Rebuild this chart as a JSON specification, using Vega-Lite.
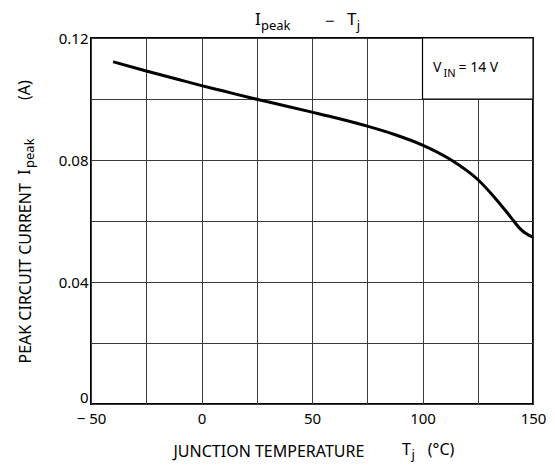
{
  "$schema": "https://vega.github.io/schema/vega-lite/v6.json",
  "width": 442,
  "height": 366,
  "autosize": {"type": "none"},
  "padding": {"left": 91, "top": 38, "right": 22, "bottom": 66},
  "background": "white",
  "config": {
    "font": "Noto Sans",
    "view": {"stroke": "black", "strokeWidth": 2},
    "text": {"font": "Noto Sans", "color": "black"},
    "axis": {
      "domain": false,
      "ticks": false,
      "grid": true,
      "gridColor": "#3a3a3a",
      "gridWidth": 1,
      "gridOpacity": 1,
      "labelColor": "black",
      "labelFont": "Noto Sans",
      "labelFontSize": 15,
      "labelOverlap": false,
      "labelFlush": false,
      "titleColor": "black",
      "titleFont": "Noto Sans",
      "titleFontWeight": "normal",
      "titleFontSize": 16
    }
  },
  "datasets": {
    "curve": [
      {"T": -40, "I": 0.1122},
      {"T": -25, "I": 0.1092},
      {"T": -10, "I": 0.1063},
      {"T": 0, "I": 0.1044},
      {"T": 10, "I": 0.1026},
      {"T": 25, "I": 0.0999},
      {"T": 40, "I": 0.0974},
      {"T": 50, "I": 0.0957},
      {"T": 62, "I": 0.0936},
      {"T": 75, "I": 0.0911},
      {"T": 88, "I": 0.0882},
      {"T": 100, "I": 0.0849},
      {"T": 113, "I": 0.0800},
      {"T": 125, "I": 0.0736},
      {"T": 133, "I": 0.0674},
      {"T": 140, "I": 0.0612},
      {"T": 144, "I": 0.0576},
      {"T": 147, "I": 0.0558},
      {"T": 150, "I": 0.0547}
    ],
    "cell": [{"T": 100, "T2": 150, "I": 0.10, "I2": 0.12}],
    "ann": [
      {"role": "t", "text": "I", "T": 24.2, "I": 0.12426},
      {"role": "ts", "text": "peak", "T": 26.9, "I": 0.12262},
      {"role": "tm", "text": "−", "T": 58.1, "I": 0.12525},
      {"role": "t", "text": "T", "T": 65.8, "I": 0.12426},
      {"role": "ts", "text": "j", "T": 70.2, "I": 0.12262},
      {"role": "l", "text": "V", "T": 104.8, "I": 0.10885},
      {"role": "ls", "text": "IN", "T": 109.5, "I": 0.10721},
      {"role": "l", "text": "=  14 V", "T": 116.3, "I": 0.10885},
      {"role": "x", "text": "T", "T": 90.7, "I": -0.01672},
      {"role": "xs", "text": "j", "T": 95.0, "I": -0.01803},
      {"role": "x", "text": "(°C)", "T": 102.4, "I": -0.01672},
      {"role": "y", "text": "I", "T": -77.6, "I": 0.07508},
      {"role": "ys", "text": "peak", "T": -75.8, "I": 0.07738},
      {"role": "y", "text": "(A)", "T": -77.6, "I": 0.09967}
    ]
  },
  "encoding": {
    "x": {
      "field": "T",
      "type": "quantitative",
      "scale": {"domain": [-50, 150], "nice": false, "zero": false},
      "axis": {
        "values": [-50, -25, 0, 25, 50, 75, 100, 125, 150],
        "labelExpr": "datum.value % 50 == 0 ? (datum.value < 0 ? '− 50' : '' + datum.value) : ''",
        "labelPadding": 7,
        "title": "JUNCTION TEMPERATURE",
        "titleX": 82,
        "titleY": 52,
        "titleAlign": "left",
        "titleBaseline": "alphabetic"
      }
    },
    "y": {
      "field": "I",
      "type": "quantitative",
      "scale": {"domain": [0, 0.12], "nice": false, "zero": false},
      "axis": {
        "values": [0, 0.02, 0.04, 0.06, 0.08, 0.1, 0.12],
        "labelExpr": "round(datum.value * 100) % 4 == 0 ? (datum.value == 0 ? '0' : format(datum.value, '.2f')) : ''",
        "labelPadding": 3,
        "labelOffset": {"condition": {"test": "datum.value == 0", "value": -7}, "value": 0},
        "title": "PEAK CIRCUIT CURRENT",
        "titleAngle": -90,
        "titleX": -61,
        "titleY": 325,
        "titleAlign": "left",
        "titleBaseline": "alphabetic"
      }
    }
  },
  "layer": [
    {
      "data": {"name": "cell"},
      "mark": {"type": "rect", "fill": "white", "stroke": "black", "strokeWidth": 1.2},
      "encoding": {"x2": {"field": "T2"}, "y2": {"field": "I2"}}
    },
    {
      "data": {"name": "curve"},
      "mark": {"type": "line", "color": "black", "strokeWidth": 3, "interpolate": "monotone"},
      "encoding": {}
    },
    {
      "data": {"name": "ann"},
      "transform": [{"filter": "datum.role == 't'"}],
      "mark": {"type": "text", "font": "Noto Sans", "fontSize": 17, "align": "left", "baseline": "alphabetic", "color": "black"},
      "encoding": {"text": {"field": "text"}}
    },
    {
      "data": {"name": "ann"},
      "transform": [{"filter": "datum.role == 'ts'"}],
      "mark": {"type": "text", "font": "Noto Sans", "fontSize": 13, "align": "left", "baseline": "alphabetic", "color": "black"},
      "encoding": {"text": {"field": "text"}}
    },
    {
      "data": {"name": "ann"},
      "transform": [{"filter": "datum.role == 'tm'"}],
      "mark": {"type": "text", "font": "Noto Sans", "fontSize": 17, "align": "center", "baseline": "middle", "color": "black"},
      "encoding": {"text": {"field": "text"}}
    },
    {
      "data": {"name": "ann"},
      "transform": [{"filter": "datum.role == 'l'"}],
      "mark": {"type": "text", "font": "Noto Sans", "fontSize": 14, "align": "left", "baseline": "alphabetic", "color": "black"},
      "encoding": {"text": {"field": "text"}}
    },
    {
      "data": {"name": "ann"},
      "transform": [{"filter": "datum.role == 'ls'"}],
      "mark": {"type": "text", "font": "Noto Sans", "fontSize": 11, "align": "left", "baseline": "alphabetic", "color": "black"},
      "encoding": {"text": {"field": "text"}}
    },
    {
      "data": {"name": "ann"},
      "transform": [{"filter": "datum.role == 'x'"}],
      "mark": {"type": "text", "font": "Noto Sans", "fontSize": 16, "align": "left", "baseline": "alphabetic", "color": "black"},
      "encoding": {"text": {"field": "text"}}
    },
    {
      "data": {"name": "ann"},
      "transform": [{"filter": "datum.role == 'xs'"}],
      "mark": {"type": "text", "font": "Noto Sans", "fontSize": 13, "align": "left", "baseline": "alphabetic", "color": "black"},
      "encoding": {"text": {"field": "text"}}
    },
    {
      "data": {"name": "ann"},
      "transform": [{"filter": "datum.role == 'y'"}],
      "mark": {"type": "text", "font": "Noto Sans", "fontSize": 16, "angle": -90, "align": "left", "baseline": "alphabetic", "color": "black"},
      "encoding": {"text": {"field": "text"}}
    },
    {
      "data": {"name": "ann"},
      "transform": [{"filter": "datum.role == 'ys'"}],
      "mark": {"type": "text", "font": "Noto Sans", "fontSize": 13, "angle": -90, "align": "left", "baseline": "alphabetic", "color": "black"},
      "encoding": {"text": {"field": "text"}}
    }
  ]
}
